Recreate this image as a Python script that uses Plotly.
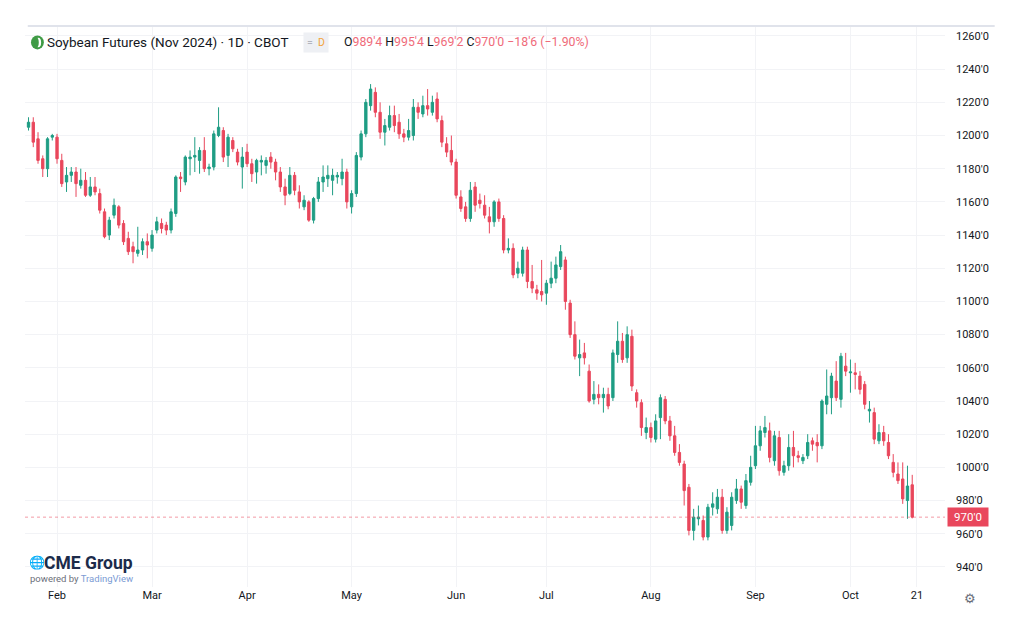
import pandas as pd
import plotly.graph_objects as go

# Soybean Nov 2024 futures, daily candles (values in cents), Jan 24 -> Oct 18 2024
holidays = ["2024-02-19", "2024-03-29", "2024-05-27", "2024-06-19", "2024-07-04", "2024-09-02"]
days = pd.bdate_range("2024-01-24", "2024-10-21", freq="C", holidays=holidays)

opens = [
    # Jan
    1205, 1208, 1198, 1186, 1180, 1199,
    # Feb
    1199, 1185, 1172, 1176, 1178, 1170, 1173, 1164, 1169, 1165,
    1154, 1140, 1152, 1157, 1147, 1138, 1133, 1129, 1131, 1136,
    # Mar
    1132, 1143, 1147, 1146, 1143, 1153, 1175, 1172, 1186, 1187,
    1185, 1191, 1180, 1181, 1200, 1203, 1188, 1197, 1190, 1181,
    # Apr
    1190, 1183, 1178, 1184, 1182, 1187, 1184, 1178, 1169, 1165, 1176,
    1166, 1157, 1160, 1149, 1162, 1172, 1174, 1173, 1175, 1174, 1178,
    # May
    1157, 1165, 1187, 1201, 1218, 1226, 1214, 1202, 1205, 1212, 1208,
    1201, 1199, 1200, 1217, 1213, 1218, 1214, 1222, 1209, 1195, 1191,
    # Jun
    1184, 1163, 1157, 1150, 1169, 1161, 1158, 1151, 1148, 1160,
    1150, 1131, 1132, 1117, 1117, 1131, 1112, 1107, 1106,
    # Jul
    1105, 1111, 1114, 1121, 1125, 1099, 1080, 1066, 1069, 1058, 1041,
    1044, 1042, 1044, 1042, 1068, 1076, 1066, 1079, 1045, 1039, 1021,
    # Aug
    1024, 1017, 1030, 1041, 1028, 1019, 1009, 1002, 988, 962, 969,
    968, 958, 976, 975, 982, 962, 965, 980, 987, 977, 991,
    # Sep
    1001, 1013, 1021, 1022, 1004, 1018, 997, 1001, 1012, 1007,
    1004, 1007, 1016, 1015, 1013, 1038, 1042, 1052, 1041, 1061,
    # Oct
    1057, 1057, 1055, 1050, 1034, 1033, 1016, 1021, 1015, 1003,
    996, 993, 980, 989.5,
]
highs = [
    1211, 1211, 1202, 1188, 1199, 1201,
    1201, 1189, 1181, 1181, 1181, 1180, 1178, 1175, 1175, 1168,
    1156, 1151, 1162, 1158, 1149, 1142, 1136, 1145, 1138, 1141,
    1143, 1151, 1150, 1148, 1156, 1176, 1178, 1188, 1191, 1199,
    1193, 1199, 1183, 1203, 1217, 1205, 1201, 1199, 1192, 1193,
    1195, 1186, 1186, 1188, 1187, 1190, 1186, 1181, 1174, 1181, 1178,
    1170, 1164, 1161, 1163, 1175, 1182, 1182, 1180, 1178, 1186, 1180,
    1167, 1190, 1203, 1222, 1231, 1229, 1220, 1210, 1218, 1218, 1213,
    1204, 1210, 1222, 1220, 1224, 1228, 1224, 1226, 1212, 1199, 1200,
    1186, 1167, 1160, 1172, 1172, 1165, 1164, 1157, 1161, 1162,
    1152, 1138, 1135, 1124, 1133, 1133, 1122, 1110, 1125,
    1113, 1124, 1127, 1134, 1127, 1101, 1088, 1077, 1075, 1062, 1052,
    1050, 1048, 1048, 1071, 1088, 1081, 1085, 1083, 1047, 1041, 1030,
    1027, 1032, 1044, 1043, 1031, 1025, 1014, 1004, 990, 975, 977,
    971, 978, 985, 987, 987, 976, 985, 993, 989, 996, 1007,
    1025, 1025, 1031, 1027, 1022, 1022, 1004, 1020, 1022, 1010,
    1008, 1020, 1018, 1020, 1041, 1059, 1057, 1064, 1069, 1069,
    1065, 1063, 1058, 1052, 1040, 1036, 1026, 1025, 1020, 1008,
    1003, 1003, 1001, 995.5,
]
lows = [
    1203, 1193, 1183, 1175, 1175, 1197,
    1183, 1169, 1166, 1172, 1163, 1168, 1163, 1163, 1164, 1153,
    1138, 1137, 1150, 1144, 1134, 1128, 1123, 1127, 1128, 1126,
    1130, 1141, 1141, 1140, 1141, 1151, 1166, 1170, 1176, 1178,
    1177, 1178, 1176, 1179, 1199, 1184, 1181, 1190, 1182, 1168,
    1181, 1172, 1171, 1176, 1177, 1180, 1173, 1166, 1158, 1164, 1164,
    1156, 1155, 1148, 1147, 1160, 1166, 1169, 1164, 1171, 1170, 1156,
    1153, 1163, 1185, 1199, 1215, 1211, 1198, 1194, 1203, 1202, 1198,
    1196, 1197, 1197, 1210, 1211, 1212, 1212, 1208, 1193, 1187, 1182,
    1162, 1154, 1148, 1148, 1154, 1156, 1150, 1141, 1145, 1148,
    1129, 1129, 1114, 1114, 1115, 1108, 1105, 1101, 1100,
    1098, 1108, 1111, 1119, 1095, 1078, 1065, 1055, 1062, 1039, 1038,
    1038, 1033, 1035, 1040, 1063, 1063, 1063, 1046, 1036, 1019, 1017,
    1015, 1015, 1017, 1026, 1016, 1007, 1001, 977, 959, 956, 965,
    956, 956, 971, 972, 960, 960, 962, 978, 975, 975, 989,
    999, 1010, 1018, 1003, 1001, 995, 995, 998, 1000, 1003,
    1002, 1005, 1010, 1003, 1011, 1032, 1032, 1040, 1036, 1055,
    1045, 1047, 1044, 1035, 1027, 1014, 1014, 1013, 1005, 994,
    990, 978, 969, 969.25,
]
closes = [
    1208, 1196, 1185, 1180, 1198, 1200,
    1186, 1171, 1176, 1178, 1171, 1173, 1164, 1169, 1166, 1155,
    1139, 1149, 1158, 1146, 1136, 1130, 1130, 1131, 1136, 1134,
    1140, 1148, 1144, 1143, 1154, 1175, 1174, 1187, 1187, 1188,
    1191, 1180, 1181, 1201, 1205, 1187, 1199, 1192, 1184, 1187,
    1183, 1177, 1185, 1185, 1185, 1184, 1178, 1169, 1164, 1176, 1167,
    1160, 1161, 1149, 1162, 1172, 1175, 1176, 1176, 1176, 1178, 1160,
    1165, 1188, 1201, 1220, 1228, 1214, 1202, 1206, 1212, 1206, 1201,
    1199, 1203, 1217, 1214, 1218, 1216, 1220, 1210, 1196, 1190, 1184,
    1164, 1156, 1150, 1167, 1158, 1159, 1152, 1148, 1160, 1150,
    1131, 1132, 1116, 1120, 1131, 1112, 1108, 1105, 1104,
    1111, 1114, 1122, 1130, 1100, 1080, 1067, 1068, 1066, 1040, 1044,
    1042, 1044, 1037, 1069, 1076, 1065, 1080, 1049, 1040, 1024, 1024,
    1018, 1028, 1042, 1028, 1019, 1009, 1003, 986, 962, 970, 970,
    958, 976, 978, 982, 962, 973, 982, 987, 979, 992, 1000,
    1013, 1022, 1024, 1006, 1019, 998, 1001, 1012, 1007, 1006,
    1006, 1015, 1014, 1013, 1040, 1043, 1055, 1042, 1067, 1058,
    1057.5, 1056, 1047, 1038, 1035, 1017, 1021, 1016, 1007, 997,
    992, 981, 988.75, 970,
]

tick_dates = ["2024-02-01", "2024-03-01", "2024-04-01", "2024-05-01", "2024-06-03",
              "2024-07-01", "2024-08-01", "2024-09-03", "2024-10-01", "2024-10-21"]
tick_labels = ["Feb", "Mar", "Apr", "May", "Jun", "Jul", "Aug", "Sep", "Oct", "21"]

price_ticks = list(range(940, 1261, 20))
price_labels = [f"{p}'0" for p in price_ticks]

n = len(closes)
assert len(opens) == len(highs) == len(lows) == n == len(days) - 1

x_idx = list(range(n))
tick_pos = [days.get_loc(pd.Timestamp(d)) for d in tick_dates]

GREEN = "#1f9d84"
RED = "#e9475c"
FONT = "Roboto, Inter, sans-serif"

fig = go.Figure()
fig.add_trace(go.Candlestick(
    x=x_idx, open=opens, high=highs, low=lows, close=closes,
    increasing=dict(line=dict(color=GREEN, width=1), fillcolor=GREEN),
    decreasing=dict(line=dict(color=RED, width=1), fillcolor=RED),
    hovertext=[d.strftime("%b %d, %Y") for d in days[:n]],
    showlegend=False,
))

# ligne du dernier prix
fig.add_hline(y=closes[-1], line=dict(color="rgba(233,71,92,0.55)", width=1, dash="dot"))

# la page a une marge de 8px : figure réduite d'autant
fig.update_layout(
    width=1008, height=612,
    margin=dict(l=17, r=71, t=19, b=33),
    paper_bgcolor="white", plot_bgcolor="white",
    font=dict(family=FONT, size=11, color="#131722"),
    xaxis=dict(
        range=[-0.74, 192.9],
        tickvals=tick_pos, ticktext=tick_labels,
        showgrid=True, gridcolor="#f2f3f6", zeroline=False,
        showline=False, ticks="", rangeslider=dict(visible=False),
        tickfont=dict(size=11, color="#131722"),
    ),
    yaxis=dict(
        side="right", range=[927.9, 1265.4],
        tickvals=price_ticks, ticktext=price_labels,
        showgrid=True, gridcolor="#f2f3f6", zeroline=False,
        showline=False, ticks="", ticklabelstandoff=10,
        tickfont=dict(size=11, color="#131722"),
    ),
)

# bordure supérieure
fig.add_shape(type="line", xref="paper", yref="paper", x0=0.003, x1=1.054, y0=1.002, y1=1.002,
              line=dict(color="#e0e3eb", width=2))

# logo soja dans l'en-tête
fig.add_shape(type="circle", xref="paper", yref="paper", x0=0.0065, x1=0.0205, y0=0.960, y1=0.985,
              line=dict(width=0), fillcolor="#3f9b45")
fig.add_shape(type="circle", xref="paper", yref="paper", x0=0.0112, x1=0.0175, y0=0.964, y1=0.981,
              line=dict(width=0), fillcolor="white")
fig.add_shape(type="circle", xref="paper", yref="paper", x0=0.0098, x1=0.0150, y0=0.963, y1=0.982,
              line=dict(width=0), fillcolor="#3f9b45")

fig.add_annotation(text="Soybean Futures (Nov 2024) · 1D · CBOT", xref="paper", yref="paper",
                   x=0.0215, y=0.973, xanchor="left", yanchor="middle", showarrow=False,
                   font=dict(size=13.5, color="#131722", family=FONT))
fig.add_annotation(text="<span style='color:#b2b5be'>=</span>  <span style='color:#f2a33a'>D</span>",
                   xref="paper", yref="paper", x=0.302, y=0.973, xanchor="left", yanchor="middle",
                   showarrow=False, bgcolor="#eef0f4", borderpad=3, font=dict(size=10.5, family=FONT))

val = "color:#ef6b7a"
ohlc = (f"O<span style='{val}'>989'4</span> H<span style='{val}'>995'4</span> "
        f"L<span style='{val}'>969'2</span> C<span style='{val}'>970'0</span> "
        f"<span style='{val}'>−18'6 (−1.90%)</span>")
fig.add_annotation(text=ohlc, xref="paper", yref="paper", x=0.345, y=0.973, xanchor="left",
                   yanchor="middle", showarrow=False, font=dict(size=12.3, color="#131722", family=FONT))

# étiquette du dernier prix
fig.add_annotation(text=f"{int(closes[-1])}'0", xref="paper", yref="y", x=1.002, y=closes[-1],
                   xanchor="left", yanchor="middle", showarrow=False, bgcolor="#e9475c",
                   borderpad=2, width=36, font=dict(size=11.5, color="white", family=FONT))

# logo CME Group
fig.add_annotation(text="🌐", xref="paper", yref="paper", x=0.002, y=0.043, xanchor="left",
                   yanchor="middle", showarrow=False, font=dict(size=13, color="#3a9ad9"))
fig.add_annotation(text="<b>CME Group</b>", xref="paper", yref="paper", x=0.018, y=0.043,
                   xanchor="left", yanchor="middle", showarrow=False,
                   font=dict(size=17.5, color="#1c2b4a", family=FONT))
fig.add_annotation(text="powered by <span style='color:#7b9bd4'>TradingView</span>",
                   xref="paper", yref="paper", x=0.003, y=0.016, xanchor="left", yanchor="middle",
                   showarrow=False, font=dict(size=9.5, color="#6b6f7a", family=FONT))

# icône réglages
fig.add_annotation(text="⚙", xref="paper", yref="paper", x=1.027, y=-0.02, xanchor="center",
                   yanchor="middle", showarrow=False, font=dict(size=13, color="#6b6f7a"))

fig.write_html("out.html", config={"displayModeBar": False})
